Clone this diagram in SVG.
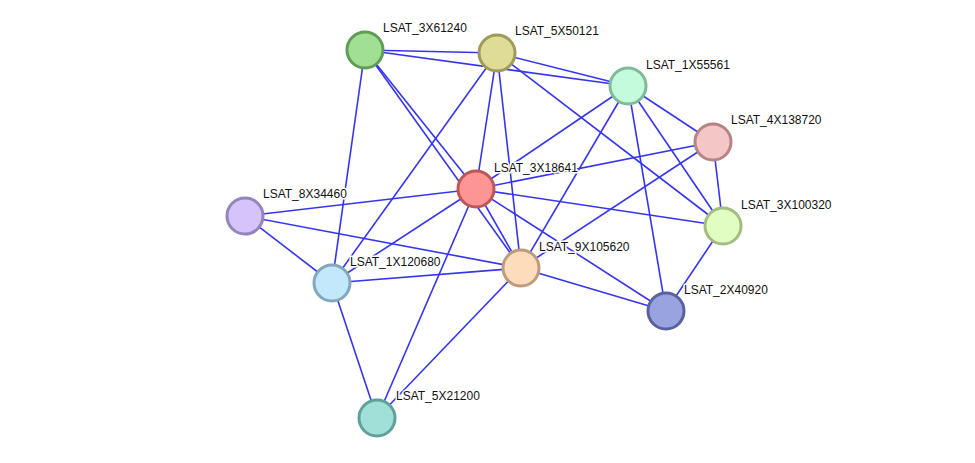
<svg xmlns="http://www.w3.org/2000/svg" width="975" height="463" viewBox="0 0 975 463">
<style>
.e{stroke:#3535f0;stroke-width:1.6;fill:none}
.n{stroke-width:3}
.t{font-family:"Liberation Sans",Arial,sans-serif;font-size:12px;fill:#111;stroke:#fff;stroke-width:3;stroke-linejoin:round;paint-order:stroke fill}
</style>
<rect width="975" height="463" fill="#fff"/>
<g id="edges">
<line class="e" x1="365" y1="50" x2="497" y2="53"/>
<line class="e" x1="365" y1="50" x2="628" y2="86"/>
<line class="e" x1="365" y1="50" x2="476" y2="189"/>
<line class="e" x1="365" y1="50" x2="521" y2="268"/>
<line class="e" x1="365" y1="50" x2="332" y2="283"/>
<line class="e" x1="497" y1="53" x2="628" y2="86"/>
<line class="e" x1="497" y1="53" x2="476" y2="189"/>
<line class="e" x1="497" y1="53" x2="521" y2="268"/>
<line class="e" x1="497" y1="53" x2="332" y2="283"/>
<line class="e" x1="497" y1="53" x2="723" y2="226"/>
<line class="e" x1="628" y1="86" x2="476" y2="189"/>
<line class="e" x1="628" y1="86" x2="521" y2="268"/>
<line class="e" x1="628" y1="86" x2="713" y2="142"/>
<line class="e" x1="628" y1="86" x2="723" y2="226"/>
<line class="e" x1="628" y1="86" x2="666" y2="311"/>
<line class="e" x1="713" y1="142" x2="476" y2="189"/>
<line class="e" x1="713" y1="142" x2="521" y2="268"/>
<line class="e" x1="713" y1="142" x2="723" y2="226"/>
<line class="e" x1="476" y1="189" x2="245" y2="216"/>
<line class="e" x1="476" y1="189" x2="723" y2="226"/>
<line class="e" x1="476" y1="189" x2="521" y2="268"/>
<line class="e" x1="476" y1="189" x2="332" y2="283"/>
<line class="e" x1="476" y1="189" x2="377" y2="418"/>
<line class="e" x1="476" y1="189" x2="666" y2="311"/>
<line class="e" x1="245" y1="216" x2="521" y2="268"/>
<line class="e" x1="245" y1="216" x2="332" y2="283"/>
<line class="e" x1="332" y1="283" x2="521" y2="268"/>
<line class="e" x1="332" y1="283" x2="377" y2="418"/>
<line class="e" x1="521" y1="268" x2="377" y2="418"/>
<line class="e" x1="521" y1="268" x2="666" y2="311"/>
<line class="e" x1="723" y1="226" x2="666" y2="311"/>
</g>
<g id="n_3X61240"><circle class="n" cx="365" cy="50" r="18" fill="#a1df95" stroke="#5f9d56"/><text class="t" x="383" y="32">LSAT_3X61240</text></g>
<g id="n_5X50121"><circle class="n" cx="497" cy="53" r="18" fill="#dfdc97" stroke="#9e9b59"/><text class="t" x="515" y="35">LSAT_5X50121</text></g>
<g id="n_1X55561"><circle class="n" cx="628" cy="86" r="18" fill="#c3fbdc" stroke="#7fba99"/><text class="t" x="646" y="69">LSAT_1X55561</text></g>
<g id="n_4X138720"><circle class="n" cx="713" cy="142" r="18" fill="#f5c6c6" stroke="#b58484"/><text class="t" x="731" y="124">LSAT_4X138720</text></g>
<g id="n_3X18641"><circle class="n" cx="476" cy="189" r="18" fill="#fe9595" stroke="#bd5656"/><text class="t" x="494" y="172">LSAT_3X18641</text></g>
<g id="n_8X34460"><circle class="n" cx="245" cy="216" r="18" fill="#d4c4fb" stroke="#9484bc"/><text class="t" x="263" y="198">LSAT_8X34460</text></g>
<g id="n_3X100320"><circle class="n" cx="723" cy="226" r="18" fill="#e2fdc1" stroke="#a2bd81"/><text class="t" x="741" y="209">LSAT_3X100320</text></g>
<g id="n_9X105620"><circle class="n" cx="521" cy="268" r="18" fill="#fddcbb" stroke="#bd9c7b"/><text class="t" x="539" y="251">LSAT_9X105620</text></g>
<g id="n_1X120680"><circle class="n" cx="332" cy="283" r="18" fill="#c3e7fb" stroke="#83a7bb"/><text class="t" x="350" y="266">LSAT_1X120680</text></g>
<g id="n_2X40920"><circle class="n" cx="666" cy="311" r="18" fill="#99a3e0" stroke="#5962a0"/><text class="t" x="684" y="294">LSAT_2X40920</text></g>
<g id="n_5X21200"><circle class="n" cx="377" cy="418" r="18" fill="#a0e0d8" stroke="#5fa099"/><text class="t" x="396" y="400">LSAT_5X21200</text></g>
</svg>
